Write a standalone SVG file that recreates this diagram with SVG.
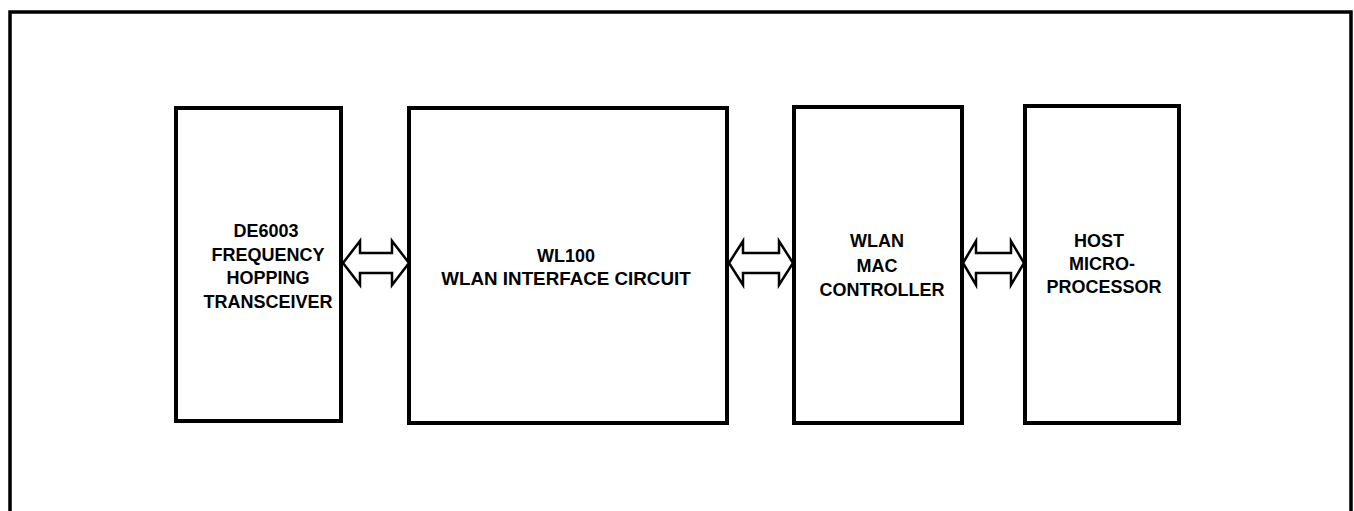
<svg xmlns="http://www.w3.org/2000/svg" width="1354" height="511" viewBox="0 0 1354 511">
<style>
.box{fill:none;stroke:#000;stroke-width:4}
.frame{fill:none;stroke:#000;stroke-width:3.5}
.lbl{font-family:"Liberation Sans",Arial,sans-serif;font-weight:bold;font-size:18px;text-anchor:middle;fill:#000}
.arr{fill:#fff;stroke:#000;stroke-width:2.5;stroke-linejoin:miter}
</style>
<rect width="1354" height="511" fill="#fff"/>
<path class="frame" d="M10 511 V12 H1351 V511"/>
<g id="node-de6003">
<rect class="box" x="176" y="108" width="165" height="313"/>
<text class="lbl" x="266" y="237">DE6003</text>
<text class="lbl" x="268" y="260.5">FREQUENCY</text>
<text class="lbl" x="268" y="284">HOPPING</text>
<text class="lbl" x="268" y="307.5">TRANSCEIVER</text>
</g>
<g id="node-wl100">
<rect class="box" x="409" y="108" width="318" height="315"/>
<text class="lbl" x="566" y="262">WL100</text>
<text class="lbl" x="566" y="285" style="font-size:18.8px">WLAN INTERFACE CIRCUIT</text>
</g>
<g id="node-mac">
<rect class="box" x="794" y="107" width="168" height="316"/>
<text class="lbl" x="877" y="247">WLAN</text>
<text class="lbl" x="877" y="272">MAC</text>
<text class="lbl" x="882" y="296">CONTROLLER</text>
</g>
<g id="node-host">
<rect class="box" x="1025" y="106" width="154" height="317"/>
<text class="lbl" x="1099" y="247">HOST</text>
<text class="lbl" x="1102" y="270">MICRO-</text>
<text class="lbl" x="1104" y="293">PROCESSOR</text>
</g>
<g id="connectors">
<path class="arr" d="M343 263 L360 241 L360 253 L392 253 L392 241 L409 263 L392 285 L392 273 L360 273 L360 285 Z"/>
<path class="arr" d="M729 263 L743 241 L743 253 L779 253 L779 241 L793 263 L779 285 L779 273 L743 273 L743 285 Z"/>
<path class="arr" d="M963 263 L976 241 L976 253 L1011 253 L1011 241 L1024 263 L1011 285 L1011 273 L976 273 L976 285 Z"/>
</g>
</svg>
